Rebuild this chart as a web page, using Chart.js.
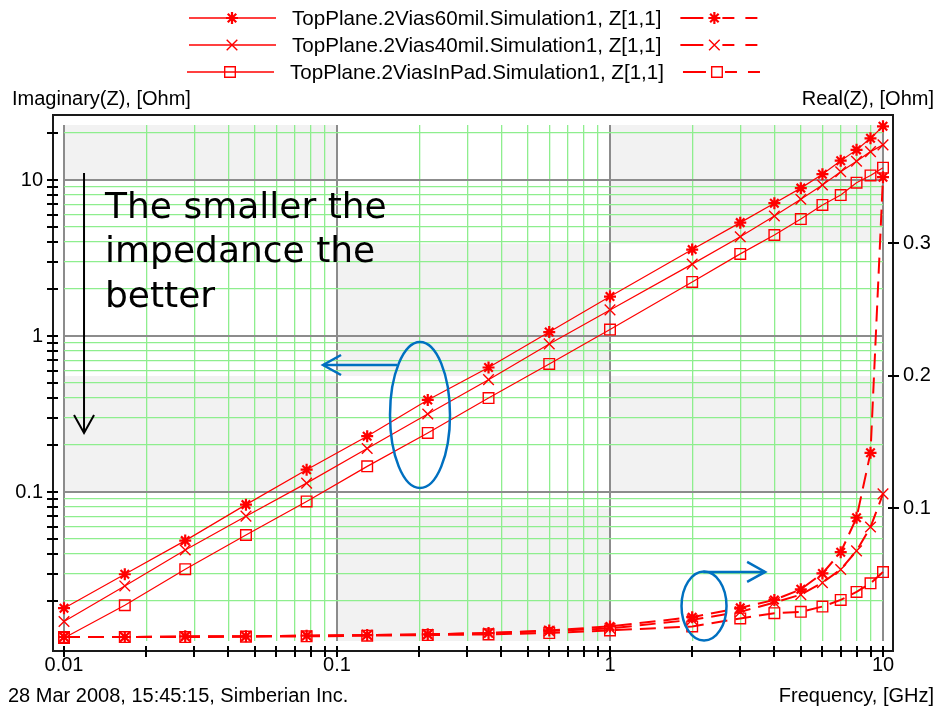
<!DOCTYPE html>
<html>
<head>
<meta charset="utf-8">
<script src="https://cdn.jsdelivr.net/npm/chart.js@4.4.1/dist/chart.umd.min.js"></script>
<style>
  html, body { margin: 0; padding: 0; background: #fff; }
</style>
</head>
<body>
<canvas id="zplot" width="936" height="711"></canvas>
<script>
// frequency points, GHz
const freq = [0.01, 0.0167, 0.0278, 0.0464, 0.0774, 0.129, 0.215, 0.359, 0.599, 1, 2, 3, 4, 5, 6, 7, 8, 9, 10];

const names = [
  "TopPlane.2Vias60mil.Simulation1, Z[1,1]",
  "TopPlane.2Vias40mil.Simulation1, Z[1,1]",
  "TopPlane.2ViasInPad.Simulation1, Z[1,1]",
];

// Imaginary(Z), Ohm (left axis, log)
const imag60 = [0.018, 0.0297, 0.0488, 0.083, 0.139, 0.228, 0.389, 0.628, 1.06, 1.79, 3.58, 5.33, 7.1, 8.87, 10.9, 13.3, 15.6, 18.5, 22.1];
const imag40 = [0.0148, 0.025, 0.0425, 0.07, 0.114, 0.19, 0.316, 0.525, 0.89, 1.47, 2.89, 4.33, 5.88, 7.52, 9.29, 11.3, 13.2, 15.2, 16.8];
const imagPad = [0.0116, 0.0188, 0.032, 0.053, 0.087, 0.146, 0.239, 0.4, 0.662, 1.1, 2.22, 3.36, 4.44, 5.62, 6.92, 8.01, 9.61, 10.7, 12.0];

// Real(Z), Ohm (right axis, linear)
const real60 = [0.003, 0.003, 0.0035, 0.0035, 0.004, 0.0045, 0.005, 0.006, 0.008, 0.011, 0.018, 0.025, 0.031, 0.039, 0.051, 0.067, 0.093, 0.142, 0.35];
const real40 = [0.003, 0.003, 0.0033, 0.0035, 0.004, 0.0045, 0.005, 0.006, 0.0075, 0.0095, 0.016, 0.022, 0.029, 0.035, 0.044, 0.054, 0.068, 0.086, 0.111];
const realPad = [0.003, 0.003, 0.003, 0.0033, 0.0035, 0.004, 0.0045, 0.005, 0.006, 0.008, 0.011, 0.017, 0.021, 0.022, 0.026, 0.031, 0.037, 0.0435, 0.052];

// tick labels
const xDecades = [0.01, 0.1, 1, 10];
const xTickLabels = ["0.01", "0.1", "1", "10"];
const yLeftDecades = [0.1, 1, 10];
const yLeftTickLabels = ["0.1", "1", "10"];
const yRightTicks = [0.1, 0.2, 0.3];
const yRightTickLabels = ["0.1", "0.2", "0.3"];

const titleLeft = "Imaginary(Z), [Ohm]";
const titleRight = "Real(Z), [Ohm]";
const footLeft = "28 Mar 2008, 15:45:15, Simberian Inc.";
const footRight = "Frequency, [GHz]";
const noteLines = ["The smaller the", "impedance the", "better"];

const markers = ["star", "crossRot", "rect"];
const RED = "#ff0000";
const BLUE = "#0070c0";
const FONT = "Liberation Sans";

function logTicks(lo, hi) {
  const out = [];
  for (let e = -3; e <= 2; e++) {
    for (let m = 1; m <= 9; m++) {
      const v = parseFloat((m * Math.pow(10, e)).toPrecision(6));
      if (v >= lo * 0.9999 && v <= hi * 1.0001) out.push({ value: v });
    }
  }
  return out;
}
function isDecade(v) {
  const l = Math.log10(v);
  return Math.abs(l - Math.round(l)) < 1e-6;
}

function series(vals, i, axis, dashed) {
  return {
    label: names[i],
    data: freq.map((f, k) => ({ x: f, y: vals[k] })),
    yAxisID: axis,
    borderColor: RED,
    backgroundColor: "rgba(0,0,0,0)",
    borderWidth: dashed ? 2 : 1.2,
    borderDash: dashed ? [16, 8] : [],
    pointStyle: markers[i],
    pointRadius: i === 0 ? 6 : 7.5,
    pointBorderWidth: i === 0 ? 2.2 : 1.4,
    pointBorderColor: RED,
    pointBackgroundColor: "rgba(0,0,0,0)",
    tension: 0,
    clip: false,
  };
}

// light gray checker cells: [xFrom, xTo, top edge, bottom edge], edge = [axis, value] or null
const shadeCells = [
  [0.01, 0.1, null, ["yL", 10]],
  [0.01, 0.1, ["yR", 0.2], ["yL", 0.1]],
  [0.1, 1, ["yR", 0.3], ["yR", 0.2]],
  [0.1, 1, ["yR", 0.1], null],
  [1, 10, null, ["yR", 0.3]],
  [1, 10, ["yR", 0.2], ["yL", 0.1]],
];

function drawMarker(ctx, style, r, x, y, bw) {
  ctx.save();
  ctx.strokeStyle = RED;
  ctx.fillStyle = "rgba(0,0,0,0)";
  ctx.lineWidth = bw;
  ctx.setLineDash([]);
  if (Chart.helpers && Chart.helpers.drawPoint) {
    Chart.helpers.drawPoint(ctx, { pointStyle: style, radius: r, rotation: 0, borderWidth: bw }, x, y);
  }
  ctx.restore();
}

function arrowHead(ctx, tx, ty, dx, dy, len, half) {
  // open V arrow head pointing along (dx, dy)
  const n = Math.hypot(dx, dy);
  const ux = dx / n, uy = dy / n;
  ctx.beginPath();
  ctx.moveTo(tx - ux * len - uy * half, ty - uy * len + ux * half);
  ctx.lineTo(tx, ty);
  ctx.lineTo(tx - ux * len + uy * half, ty - uy * len - ux * half);
  ctx.stroke();
}

const decor = {
  id: "decor",
  beforeDraw(chart) {
    const { ctx, chartArea: a, scales } = chart;
    ctx.save();
    ctx.fillStyle = "#f2f2f2";
    shadeCells.forEach(([x0, x1, t, b]) => {
      const left = scales.x.getPixelForValue(x0);
      const right = scales.x.getPixelForValue(x1);
      const top = t ? scales[t[0]].getPixelForValue(t[1]) : a.top;
      const bottom = b ? scales[b[0]].getPixelForValue(b[1]) : a.bottom;
      ctx.fillRect(left, top, right - left, bottom - top);
    });
    ctx.restore();
  },
  afterDraw(chart) {
    const { ctx, chartArea: a, scales } = chart;
    const x = scales.x, yL = scales.yL, yR = scales.yR;
    const fl = a.left - 11, fr = a.right + 10, ft = a.top - 10, fb = a.bottom + 10;
    ctx.save();

    // frame
    ctx.strokeStyle = "#1a1a1a";
    ctx.lineWidth = 2;
    ctx.strokeRect(fl, ft, fr - fl, fb - ft);

    // tick marks crossing the frame
    ctx.strokeStyle = "#000";
    ctx.lineWidth = 2;
    ctx.beginPath();
    x.ticks.forEach(t => {
      const p = Math.round(x.getPixelForValue(t.value));
      ctx.moveTo(p, fb - 5); ctx.lineTo(p, fb + 6);
    });
    yL.ticks.forEach(t => {
      const p = Math.round(yL.getPixelForValue(t.value));
      ctx.moveTo(fl - 6, p); ctx.lineTo(fl + 5, p);
    });
    yR.ticks.forEach(t => {
      const p = Math.round(yR.getPixelForValue(t.value));
      ctx.moveTo(fr - 5, p); ctx.lineTo(fr + 6, p);
    });
    ctx.stroke();

    // axis titles and footer
    ctx.fillStyle = "#000";
    ctx.font = "20px '" + FONT + "'";
    ctx.textBaseline = "alphabetic";
    ctx.textAlign = "left";
    ctx.fillText(titleLeft, 12, 105);
    ctx.fillText(footLeft, 8, 702);
    ctx.textAlign = "right";
    ctx.fillText(titleRight, 934, 105);
    ctx.fillText(footRight, 934, 702);

    // legend
    const rowsY = [18, 45, 72];
    const center = 474.5;
    chart.data.datasets.slice(0, 3).forEach((ds, i) => {
      ctx.font = "20.6px '" + FONT + "'";
      const tw = ctx.measureText(ds.label).width;
      const x0 = Math.round(center - (201 + tw) / 2);
      const y = rowsY[i];
      ctx.strokeStyle = RED;
      ctx.lineWidth = 1.5;
      ctx.setLineDash([]);
      ctx.beginPath(); ctx.moveTo(x0, y); ctx.lineTo(x0 + 87, y); ctx.stroke();
      drawMarker(ctx, ds.pointStyle, ds.pointRadius, x0 + 43, y, ds.pointBorderWidth);
      ctx.fillStyle = "#000";
      ctx.textAlign = "left";
      ctx.textBaseline = "middle";
      ctx.fillText(ds.label, x0 + 103, y + 1);
      const d0 = x0 + 103 + tw + 19;
      ctx.strokeStyle = RED;
      ctx.lineWidth = 2;
      ctx.beginPath();
      [[0, 23], [42, 54], [65, 77]].forEach(([s, e]) => { ctx.moveTo(d0 + s, y); ctx.lineTo(d0 + e, y); });
      ctx.stroke();
      drawMarker(ctx, ds.pointStyle, ds.pointRadius, d0 + 34, y, ds.pointBorderWidth);
    });

    // annotation: text and black arrow
    ctx.fillStyle = "#000";
    ctx.font = "36px 'DejaVu Sans'";
    ctx.textAlign = "left";
    ctx.textBaseline = "alphabetic";
    const tx = x.getPixelForValue(0.01413);
    const ty = yL.getPixelForValue(5.71);
    noteLines.forEach((s, i) => ctx.fillText(s, tx, ty + i * 44.5));

    const ax = x.getPixelForValue(0.01184);
    const ay0 = yL.getPixelForValue(11.09);
    const ay1 = yL.getPixelForValue(0.2388);
    ctx.strokeStyle = "#000";
    ctx.lineWidth = 2;
    ctx.beginPath(); ctx.moveTo(ax, ay0); ctx.lineTo(ax, ay1); ctx.stroke();
    arrowHead(ctx, ax, ay1, 0, 1, 18, 10);

    // blue ellipses and arrows
    ctx.strokeStyle = BLUE;
    ctx.lineWidth = 2.5;
    ctx.beginPath();
    ctx.ellipse(x.getPixelForValue(0.2014), yL.getPixelForValue(0.3116), 30, 73, 0, 0, Math.PI * 2);
    ctx.stroke();
    const b1y = yL.getPixelForValue(0.6517);
    const b1t = x.getPixelForValue(0.1659), b1h = x.getPixelForValue(0.0889);
    ctx.beginPath(); ctx.moveTo(b1t, b1y); ctx.lineTo(b1h, b1y); ctx.stroke();
    arrowHead(ctx, b1h, b1y, -1, 0, 18, 10);

    ctx.beginPath();
    ctx.ellipse(x.getPixelForValue(2.21), yR.getPixelForValue(0.0264), 22.5, 34.5, 0, 0, Math.PI * 2);
    ctx.stroke();
    const b2y = yR.getPixelForValue(0.0521);
    const b2t = x.getPixelForValue(2.197), b2h = x.getPixelForValue(3.70);
    ctx.beginPath(); ctx.moveTo(b2t, b2y); ctx.lineTo(b2h, b2y); ctx.stroke();
    arrowHead(ctx, b2h, b2y, 1, 0, 18, 10);

    ctx.restore();
  },
};

const tickFont = { family: FONT, size: 20 };

new Chart(document.getElementById("zplot").getContext("2d"), {
  type: "line",
  data: {
    datasets: [
      series(imag60, 0, "yL", false),
      series(imag40, 1, "yL", false),
      series(imagPad, 2, "yL", false),
      series(real60, 0, "yR", true),
      series(real40, 1, "yR", true),
      series(realPad, 2, "yR", true),
    ],
  },
  options: {
    responsive: false,
    animation: false,
    layout: { padding: { top: 125, left: 0, right: 0, bottom: 0 } },
    plugins: { legend: { display: false }, tooltip: { enabled: false }, title: { display: false } },
    scales: {
      x: {
        type: "logarithmic",
        position: "bottom",
        min: 0.01,
        max: 10,
        bounds: "data",
        afterBuildTicks: s => { s.ticks = logTicks(0.01, 10); },
        afterFit: s => { s.height = 70; },
        border: { display: false },
        grid: {
          drawTicks: false,
          color: c => (c.tick && isDecade(c.tick.value) ? "#8c8c8c" : "#8eee8e"),
          lineWidth: c => (c.tick && isDecade(c.tick.value) ? 2 : 1.3),
        },
        ticks: {
          autoSkip: false,
          maxRotation: 0,
          padding: 12,
          color: "#000",
          font: tickFont,
          callback: v => {
            const k = xDecades.findIndex(d => Math.abs(d - v) < 1e-9);
            return k >= 0 ? xTickLabels[k] : "";
          },
        },
      },
      yL: {
        type: "logarithmic",
        position: "left",
        min: 0.01109,
        max: 22.52,
        bounds: "data",
        afterBuildTicks: s => { s.ticks = logTicks(0.01109, 22.52); },
        afterFit: s => { s.width = 64; },
        border: { display: false },
        grid: {
          drawTicks: false,
          color: c => (c.tick && isDecade(c.tick.value) ? "#8c8c8c" : "#8eee8e"),
          lineWidth: c => (c.tick && isDecade(c.tick.value) ? 2 : 1.3),
        },
        ticks: {
          autoSkip: false,
          padding: 21,
          color: "#000",
          font: tickFont,
          callback: v => {
            const k = yLeftDecades.findIndex(d => Math.abs(d - v) < 1e-9);
            return k >= 0 ? yLeftTickLabels[k] : "";
          },
        },
      },
      yR: {
        type: "linear",
        position: "right",
        min: 0,
        max: 0.3894,
        bounds: "data",
        afterBuildTicks: s => { s.ticks = yRightTicks.map(v => ({ value: v })); },
        afterFit: s => { s.width = 53; },
        border: { display: false },
        grid: { display: false, drawTicks: false },
        ticks: {
          autoSkip: false,
          padding: 20,
          color: "#000",
          font: tickFont,
          callback: v => {
            const k = yRightTicks.findIndex(d => Math.abs(d - v) < 1e-9);
            return k >= 0 ? yRightTickLabels[k] : "";
          },
        },
      },
    },
  },
  plugins: [decor],
});
</script>
</body>
</html>
